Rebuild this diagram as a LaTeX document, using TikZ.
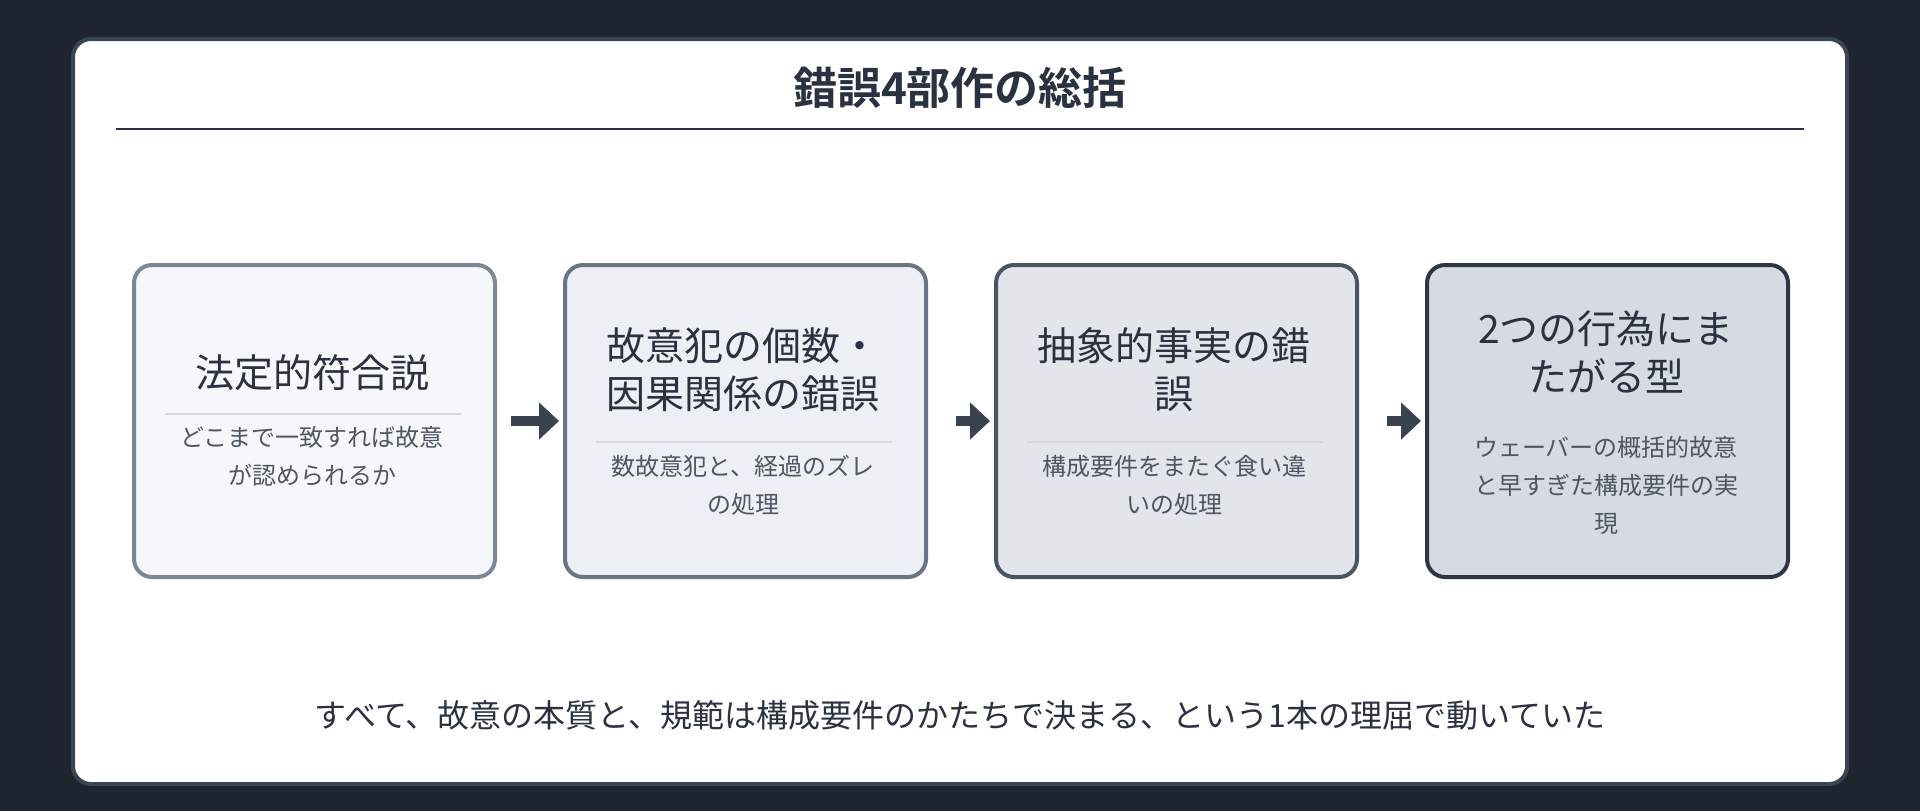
\documentclass[tikz,border=0pt]{standalone}
\usepackage{fontspec}
\setmainfont{Noto Sans CJK JP}
\newfontfamily\cjkb{Noto Sans CJK JP Bold}
\usetikzlibrary{arrows.meta}
\definecolor{bg}{HTML}{1E2530}
\definecolor{cardb}{HTML}{3B4452}
\definecolor{ink}{HTML}{2A3140}
\definecolor{sub}{HTML}{4E5663}
\definecolor{arr}{HTML}{3A4250}
\definecolor{fa}{HTML}{F5F7FA}\definecolor{ba}{HTML}{7D8896}
\definecolor{fb}{HTML}{ECEFF3}\definecolor{bb}{HTML}{6B7482}
\definecolor{fc}{HTML}{E2E6EB}\definecolor{bc}{HTML}{4B5463}
\definecolor{fd}{HTML}{D6DBE3}\definecolor{bd}{HTML}{2E3644}
\tikzset{
 box/.style={draw, line width=2pt, rounded corners=9pt, minimum width=180.5pt, minimum height=156pt, anchor=north west},
 ttl/.style={font=\fontsize{19.5}{24}\selectfont, text=ink, align=center},
 st/.style={font=\fontsize{12}{19}\selectfont, text=sub, align=center},
 sep/.style={draw=black!15, line width=0.8pt},
 arw/.style={-{Triangle[length=10pt,width=18pt]}, line width=5pt, draw=arr}
}
\begin{document}
\begin{tikzpicture}[x=0.5pt,y=-0.5pt]
\fill[bg] (0,0) rectangle (1920,811);
\useasboundingbox (0,0) rectangle (1920,811);
\draw[cardb, fill=white, line width=2pt, rounded corners=9pt] (73,39) rectangle (1847,784);
\node[font=\cjkb\fontsize{22}{26}\selectfont, text=ink] (title) at (960,88) {錯誤4部作の総括};
\draw[ink, line width=1.2pt] (116,129) -- (1804,129);
\node[box, draw=ba, fill=fa] (b1) at (132,263) {};
\node[box, draw=bb, fill=fb] (b2) at (563,263) {};
\node[box, draw=bc, fill=fc] (b3) at (994,263) {};
\node[box, draw=bd, fill=fd] (b4) at (1425,263) {};
% box1
\node[ttl] (t1) at (312,373) {法定的符合説};
\draw[sep] (165,414) -- (461,414);
\node[st] (s1) at (312,456) {どこまで一致すれば故意\\が認められるか};
% box2
\node[ttl] (t2) at (743,370) {故意犯の個数・\\因果関係の錯誤};
\draw[sep] (596,442) -- (892,442);
\node[st] (s2) at (743,485) {数故意犯と、経過のズレ\\の処理};
% box3
\node[ttl] (t3) at (1174,370) {抽象的事実の錯\\誤};
\draw[sep] (1027,442) -- (1323,442);
\node[st] (s3) at (1174,485) {構成要件をまたぐ食い違\\いの処理};
% box4
\node[ttl] (t4) at (1606,352) {2つの行為にま\\たがる型};
\node[st] (s4) at (1606,485) {ウェーバーの概括的故意\\と早すぎた構成要件の実\\現};
\draw[arw] (b1.east) ++(14,0) -- ([xshift=-2]b2.west);
\draw[arw] ([xshift=14]b2.east) -- ([xshift=-2]b3.west);
\draw[arw] ([xshift=14]b3.east) -- ([xshift=-2]b4.west);
\node[font=\fontsize{16}{20}\selectfont, text=ink] (foot) at (960,715) {すべて、故意の本質と、規範は構成要件のかたちで決まる、という1本の理屈で動いていた};
\end{tikzpicture}
\end{document}
